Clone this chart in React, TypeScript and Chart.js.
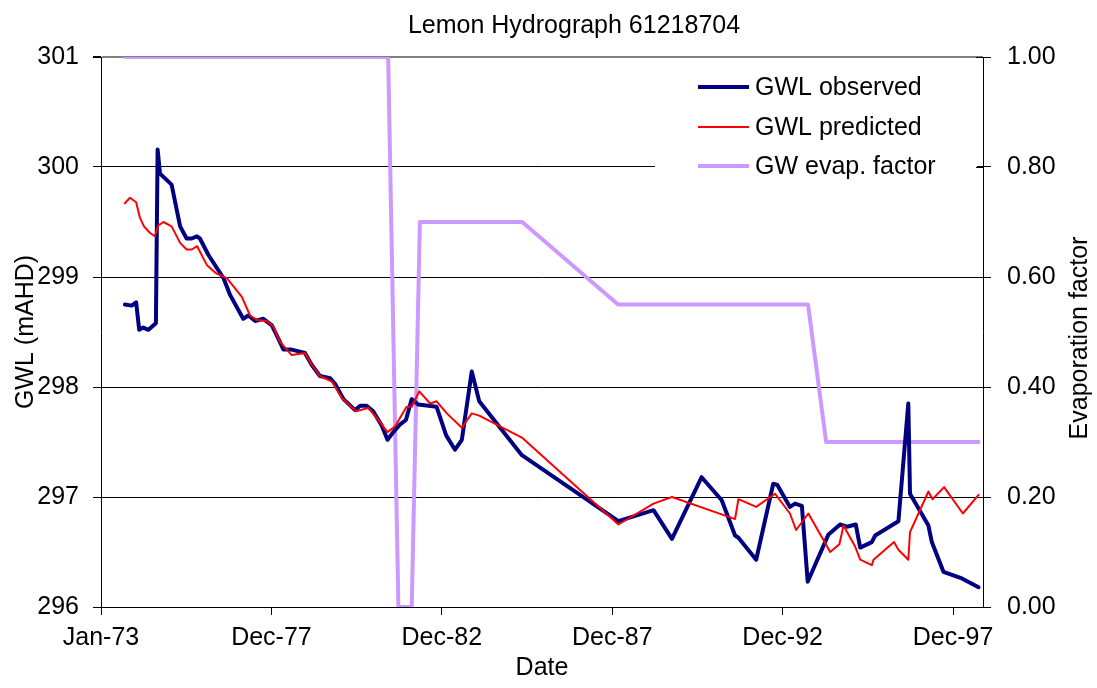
import React, { useEffect, useRef } from 'react';
import { Chart, registerables } from 'chart.js';

Chart.register(...registerables);

const FONT = '"Liberation Sans", Arial, sans-serif';
const FONT_SIZE = 25;

const chartTitle = 'Lemon Hydrograph 61218704';
const xAxisTitle = 'Date';
const yAxisTitle = 'GWL (mAHD)';
const y1AxisTitle = 'Evaporation factor';
const seriesNames = ['GWL observed', 'GWL predicted', 'GW evap. factor'];
const seriesColors = ['#000080', '#FF0000', '#CC99FF'];
const seriesWidths = [4, 2, 4];

const xTickYears = [1973.0, 1977.997, 1982.993, 1987.99, 1992.986, 1997.983];
const xTickLabels = ['Jan-73', 'Dec-77', 'Dec-82', 'Dec-87', 'Dec-92', 'Dec-97'];

const obsYears = [1973.70, 1973.90, 1974.03, 1974.12, 1974.24, 1974.39, 1974.61, 1974.66, 1974.73, 1975.07,
  1975.32, 1975.51, 1975.66, 1975.81, 1975.90, 1976.15, 1976.59, 1976.78, 1977.17, 1977.32,
  1977.52, 1977.76, 1978.01, 1978.20, 1978.35, 1978.59, 1978.98, 1979.18, 1979.42, 1979.72,
  1979.86, 1980.11, 1980.45, 1980.60, 1980.79, 1980.98, 1981.23, 1981.40, 1981.57, 1981.77,
  1981.94, 1982.11, 1982.30, 1982.84, 1983.12, 1983.38, 1983.58, 1983.87, 1984.09, 1985.34,
  1988.17, 1989.20, 1989.74, 1990.61, 1991.20, 1991.59, 1991.69, 1992.21, 1992.71, 1992.83,
  1993.20, 1993.35, 1993.55, 1993.72, 1994.33, 1994.67, 1994.87, 1995.13, 1995.26, 1995.60,
  1995.70, 1996.38, 1996.67, 1996.72, 1997.26, 1997.36, 1997.70, 1998.24, 1998.73];
const obsLevels = [298.75, 298.74, 298.77, 298.52, 298.54, 298.52, 298.58, 300.16, 299.94, 299.84,
  299.46, 299.35, 299.35, 299.37, 299.35, 299.20, 298.99, 298.84, 298.62, 298.65,
  298.60, 298.62, 298.56, 298.44, 298.34, 298.34, 298.31, 298.20, 298.10, 298.08,
  298.03, 297.89, 297.79, 297.83, 297.83, 297.78, 297.65, 297.52, 297.59, 297.66,
  297.70, 297.89, 297.84, 297.82, 297.56, 297.43, 297.52, 298.14, 297.87, 297.38,
  296.78, 296.88, 296.62, 297.18, 296.97, 296.65, 296.63, 296.43, 297.12, 297.11,
  296.91, 296.94, 296.92, 296.23, 296.66, 296.75, 296.73, 296.75, 296.54, 296.59,
  296.65, 296.78, 297.85, 297.03, 296.74, 296.59, 296.32, 296.26, 296.18];

const predYears = [1973.70, 1973.85, 1974.03, 1974.14, 1974.26, 1974.44, 1974.58, 1974.68, 1974.83, 1975.07,
  1975.32, 1975.51, 1975.66, 1975.82, 1976.10, 1976.39, 1976.69, 1977.13, 1977.37, 1977.57,
  1977.86, 1978.05, 1978.25, 1978.59, 1978.98, 1979.18, 1979.42, 1979.77, 1980.06, 1980.48,
  1980.84, 1981.08, 1981.40, 1981.62, 1981.96, 1982.11, 1982.33, 1982.65, 1982.84, 1983.14,
  1983.58, 1983.87, 1984.09, 1985.34, 1988.17, 1989.20, 1989.74, 1991.49, 1991.59, 1991.69,
  1992.21, 1992.76, 1993.20, 1993.38, 1993.74, 1994.38, 1994.65, 1994.77, 1995.11, 1995.26,
  1995.60, 1995.65, 1996.25, 1996.38, 1996.67, 1996.72, 1997.26, 1997.38, 1997.72, 1998.27,
  1998.73];
const predLevels = [299.67, 299.72, 299.68, 299.54, 299.46, 299.40, 299.37, 299.47, 299.50, 299.46,
  299.31, 299.25, 299.25, 299.28, 299.11, 299.03, 298.99, 298.82, 298.65, 298.61,
  298.60, 298.55, 298.41, 298.29, 298.31, 298.20, 298.10, 298.05, 297.90, 297.78,
  297.81, 297.72, 297.59, 297.64, 297.82, 297.82, 297.96, 297.85, 297.87, 297.76,
  297.63, 297.76, 297.74, 297.54, 296.75, 296.94, 297.00, 296.81, 296.80, 296.98,
  296.91, 297.03, 296.85, 296.70, 296.85, 296.50, 296.57, 296.74, 296.55, 296.43,
  296.38, 296.43, 296.59, 296.52, 296.43, 296.68, 297.05, 296.98, 297.09, 296.85,
  297.02];

const evapYears = [1973.70, 1981.42, 1981.72, 1982.11, 1982.35, 1985.35, 1988.16, 1993.73, 1994.26, 1998.73];
const evapFactors = [1.0, 1.0, 0.0, 0.0, 0.7, 0.7, 0.55, 0.55, 0.3, 0.3];

const toPoints = (xs: number[], ys: number[]) => xs.map((x, i) => ({ x, y: ys[i] }));

const overlayPlugin = {
  id: 'overlay',
  beforeDatasetsDraw(chart: any) {
    const { ctx, chartArea } = chart;
    ctx.save();
    // legend box (white background hides gridlines)
    const boxLeft = chartArea.right - 328;
    const boxTop = chartArea.top + 5;
    ctx.fillStyle = '#ffffff';
    ctx.fillRect(boxLeft, boxTop, 322, 135);
    const rowY = [chartArea.top + 30, chartArea.top + 70, chartArea.top + 109];
    ctx.font = `${FONT_SIZE}px ${FONT}`;
    ctx.textBaseline = 'middle';
    ctx.textAlign = 'left';
    seriesNames.forEach((name, i) => {
      ctx.strokeStyle = seriesColors[i];
      ctx.lineWidth = seriesWidths[i];
      ctx.beginPath();
      ctx.moveTo(boxLeft + 43, rowY[i]);
      ctx.lineTo(boxLeft + 94, rowY[i]);
      ctx.stroke();
      ctx.fillStyle = '#000000';
      ctx.fillText(name, boxLeft + 100, rowY[i] + 1);
    });
    // cross tick marks on the right axis (inside part)
    const y1 = chart.scales.y1;
    ctx.strokeStyle = '#000000';
    ctx.lineWidth = 1;
    y1.ticks.forEach((t: any) => {
      const py = Math.round(y1.getPixelForValue(t.value)) + 0.5;
      ctx.beginPath();
      ctx.moveTo(chartArea.right - 7, py);
      ctx.lineTo(chartArea.right, py);
      ctx.stroke();
    });
    ctx.restore();
  },
  afterDraw(chart: any) {
    const { ctx, chartArea } = chart;
    ctx.save();
    ctx.font = `${FONT_SIZE}px ${FONT}`;
    ctx.fillStyle = '#000000';
    ctx.textAlign = 'center';
    ctx.textBaseline = 'middle';
    ctx.fillText(chartTitle, (chartArea.left + chartArea.right) / 2 + 32, 26);
    // right axis title, reading upward like the left one
    ctx.translate(chart.width - 17, (chartArea.top + chartArea.bottom) / 2 + 6);
    ctx.rotate(-Math.PI / 2);
    ctx.fillText(y1AxisTitle, 0, 0);
    ctx.restore();
  },
};

export default function App() {
  const canvasRef = useRef<HTMLCanvasElement | null>(null);

  useEffect(() => {
    if (!canvasRef.current) return;
    const tickFont = { family: FONT, size: FONT_SIZE };
    const chart = new Chart(canvasRef.current, {
      type: 'line',
      data: {
        datasets: [
          {
            label: seriesNames[0],
            data: toPoints(obsYears, obsLevels),
            borderColor: seriesColors[0],
            borderWidth: seriesWidths[0],
            yAxisID: 'y',
            order: 1,
          },
          {
            label: seriesNames[1],
            data: toPoints(predYears, predLevels),
            borderColor: seriesColors[1],
            borderWidth: seriesWidths[1],
            yAxisID: 'y',
            order: 0,
          },
          {
            label: seriesNames[2],
            data: toPoints(evapYears, evapFactors),
            borderColor: seriesColors[2],
            borderWidth: seriesWidths[2],
            yAxisID: 'y1',
            order: 2,
          },
        ].map((d) => ({
          ...d,
          pointRadius: 0,
          pointHoverRadius: 0,
          tension: 0,
          fill: false,
          borderJoinStyle: 'round' as const,
          borderCapStyle: 'round' as const,
        })),
      },
      options: {
        responsive: false,
        animation: false,
        events: [],
        layout: { padding: { top: 57, left: 0, right: 0, bottom: 0 } },
        plugins: {
          legend: { display: false },
          title: { display: false },
          tooltip: { enabled: false },
        },
        scales: {
          x: {
            type: 'linear',
            min: 1973.0,
            max: 1998.86,
            afterBuildTicks: (scale: any) => {
              scale.ticks = xTickYears.map((v) => ({ value: v }));
            },
            afterFit: (scale: any) => {
              scale.height = 81;
            },
            ticks: {
              autoSkip: false,
              maxRotation: 0,
              minRotation: 0,
              padding: 8,
              color: '#000000',
              font: tickFont,
              callback: (_v: any, i: number) => xTickLabels[i],
            },
            grid: {
              drawOnChartArea: false,
              drawTicks: true,
              tickLength: 8,
              tickColor: '#000000',
            },
            border: { display: true, color: '#000000', width: 1 },
            title: {
              display: true,
              text: xAxisTitle,
              color: '#000000',
              font: tickFont,
              padding: { top: 0, bottom: 5 },
            },
          },
          y: {
            type: 'linear',
            position: 'left',
            min: 296,
            max: 301,
            afterFit: (scale: any) => {
              scale.width = 101;
            },
            ticks: {
              stepSize: 1,
              padding: 14,
              color: '#000000',
              font: tickFont,
              callback: (v: any) => String(v),
            },
            grid: {
              drawOnChartArea: true,
              drawTicks: true,
              tickLength: 8,
              tickColor: '#000000',
              color: (ctx: any) => (ctx.tick && ctx.tick.value === 301 ? '#808080' : '#000000'),
              lineWidth: (ctx: any) => (ctx.tick && ctx.tick.value === 301 ? 2 : 1),
            },
            border: { display: true, color: '#000000', width: 1 },
            title: {
              display: true,
              text: yAxisTitle,
              color: '#000000',
              font: tickFont,
              padding: { top: 11, bottom: 0 },
            },
          },
          y1: {
            type: 'linear',
            position: 'right',
            min: 0,
            max: 1,
            afterFit: (scale: any) => {
              scale.width = 114;
            },
            ticks: {
              stepSize: 0.2,
              padding: 16,
              color: '#000000',
              font: tickFont,
              callback: (v: any) => Number(v).toFixed(2),
            },
            grid: {
              drawOnChartArea: false,
              drawTicks: true,
              tickLength: 8,
              tickColor: '#000000',
            },
            border: { display: true, color: '#000000', width: 1 },
            title: { display: false },
          },
        },
      },
      plugins: [overlayPlugin],
    } as any);
    return () => chart.destroy();
  }, []);

  return (
    <div style={{ position: 'absolute', left: 0, top: 0, width: 1097, height: 688, background: '#ffffff' }}>
      <canvas ref={canvasRef} width={1097} height={688} />
    </div>
  );
}
